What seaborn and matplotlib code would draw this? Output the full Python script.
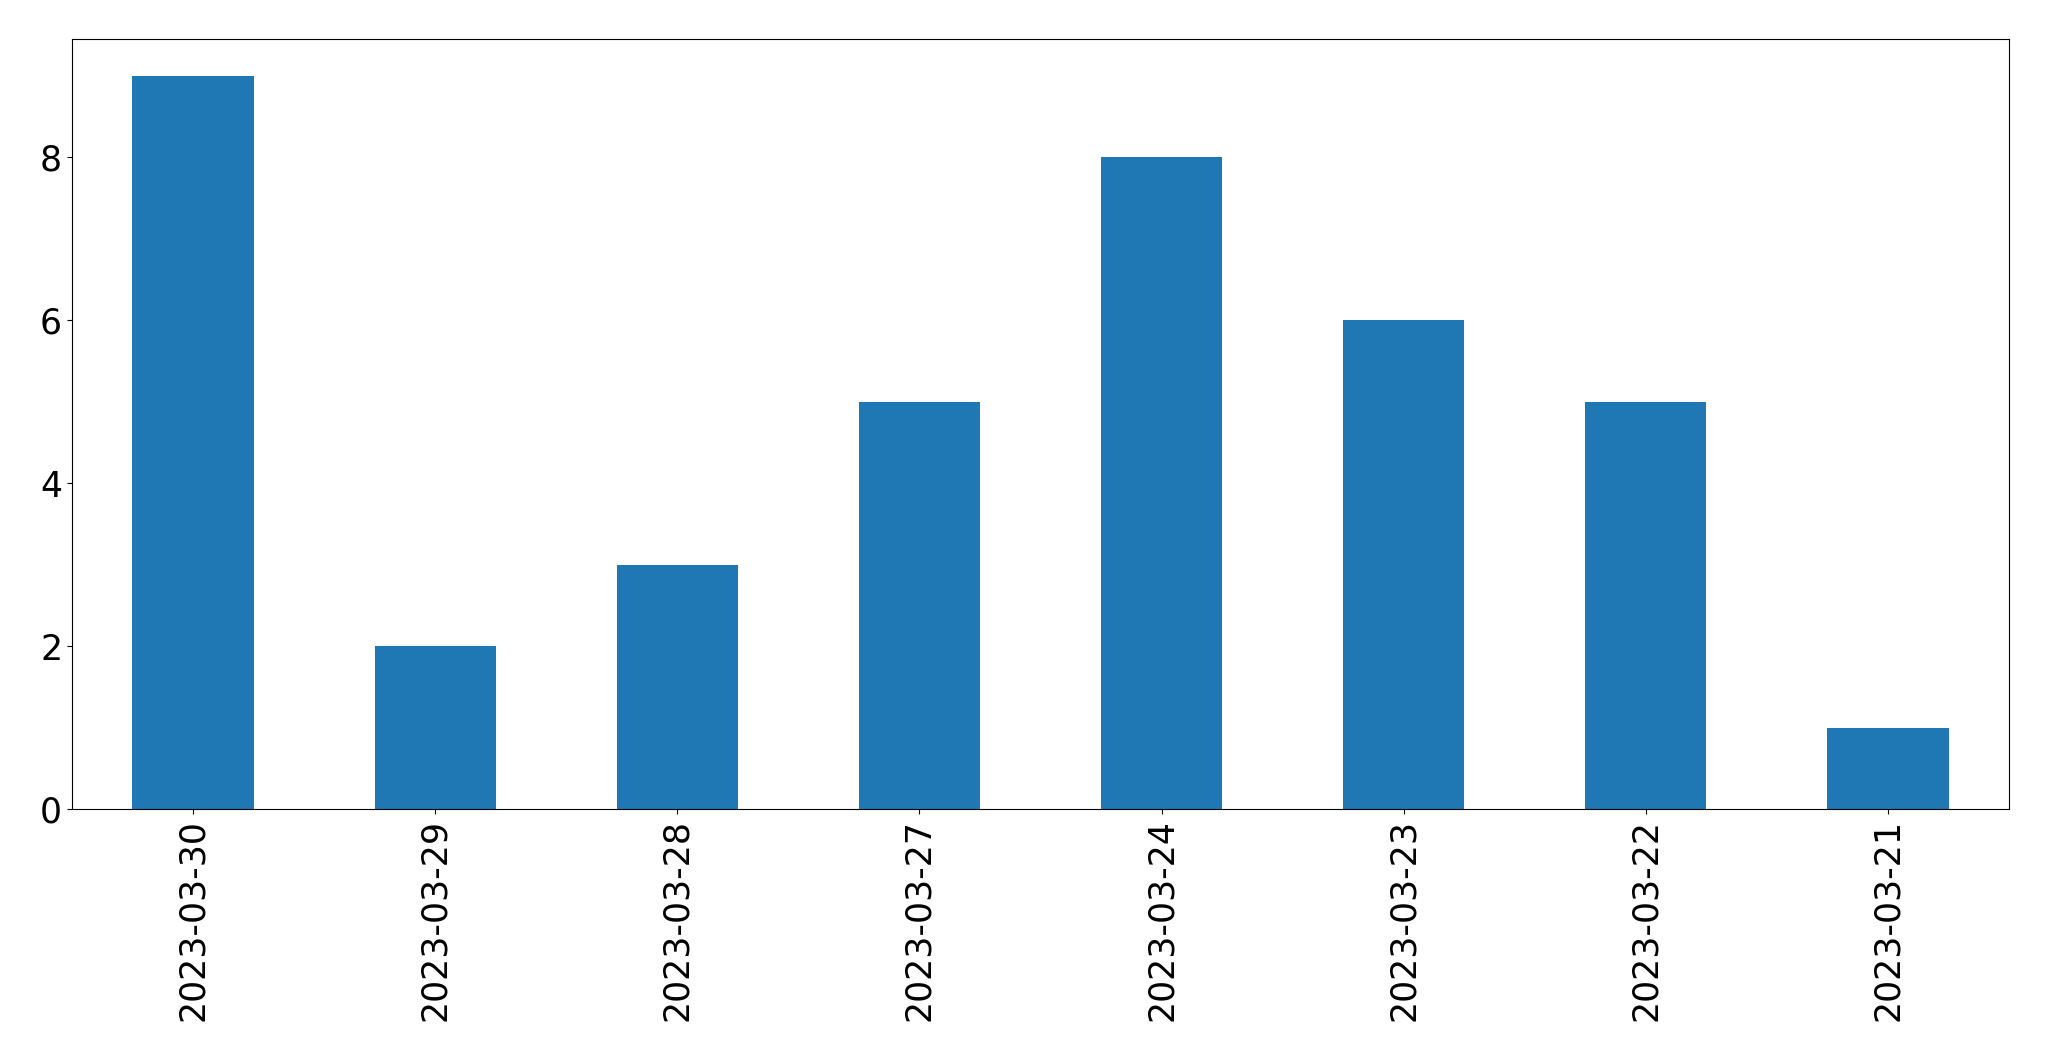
import matplotlib

matplotlib.use("Agg")
import matplotlib.pyplot as plt
import pandas as pd
import seaborn as sns

dates = ["2023-03-30", "2023-03-29", "2023-03-28", "2023-03-27",
         "2023-03-24", "2023-03-23", "2023-03-22", "2023-03-21"]
counts = [9, 2, 3, 5, 8, 6, 5, 1]

df = pd.DataFrame({"date": dates, "count": counts})

fig = plt.figure(figsize=(20.49, 10.61), dpi=100)
ax = fig.add_axes([0.0351, 0.2375, 0.9454, 0.7255])
sns.barplot(data=df, x="date", y="count", order=dates, color="#1f77b4",
            saturation=1, width=0.5, ax=ax)
ax.set_xlim(-0.5, len(dates) - 0.5)
ax.set_ylim(0, 9.45)
ax.set_yticks([0, 2, 4, 6, 8])
ax.set_xlabel("")
ax.set_ylabel("")
ax.tick_params(axis="both", labelsize=25)
ax.tick_params(axis="x", labelrotation=90)

fig.savefig("out.png", dpi=100)
